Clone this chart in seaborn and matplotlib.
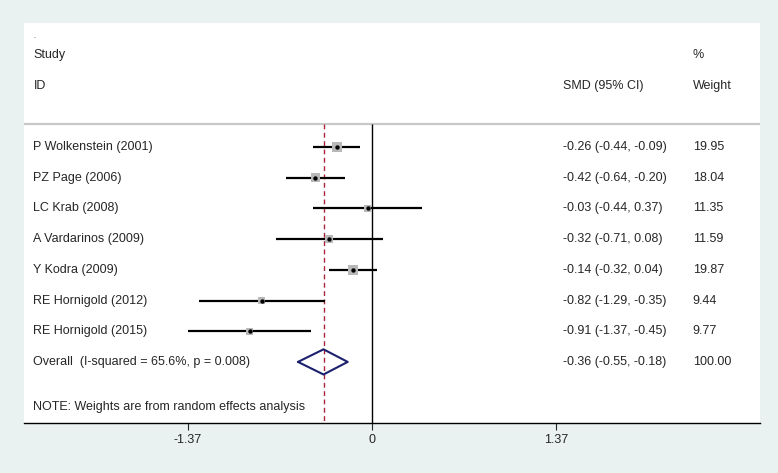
'''
forest plot of SMD per study
'''
import matplotlib
matplotlib.use('Agg')
import numpy as np
import pandas as pd
import seaborn as sns
import matplotlib.pyplot as plt

studies = ["P Wolkenstein (2001)", "PZ Page (2006)", "LC Krab (2008)", "A Vardarinos (2009)",
           "Y Kodra (2009)", "RE Hornigold (2012)", "RE Hornigold (2015)"]
smd = [-0.26, -0.42, -0.03, -0.32, -0.14, -0.82, -0.91]
lo = [-0.44, -0.64, -0.44, -0.71, -0.32, -1.29, -1.37]
hi = [-0.09, -0.20, 0.37, 0.08, 0.04, -0.35, -0.45]
weight = [19.95, 18.04, 11.35, 11.59, 19.87, 9.44, 9.77]
overall = [-0.36, -0.55, -0.18]
overall_label = "Overall  (I-squared = 65.6%, p = 0.008)"
note = "NOTE: Weights are from random effects analysis"
ticks = [-1.37, 0, 1.37]
tick_labels = ["-1.37", "0", "1.37"]


def main():
    sns.set_style("white")
    plt.rcParams['font.family'] = ['Liberation Sans', 'DejaVu Sans']
    df = pd.DataFrame({"study": studies, "smd": smd, "lo": lo, "hi": hi, "weight": weight})
    df["row"] = np.arange(len(df))

    fig = plt.figure(figsize=(7.78, 4.73), dpi=100, facecolor='#e9f1f1')
    ax = fig.add_axes([24 / 778, 50 / 473, 736 / 778, 400 / 473])
    ax.set_facecolor('white')
    ax.set_xlim(-2.59, 2.89)
    ax.set_ylim(8.99, -4.04)

    fs = 9
    # header line and reference lines
    ax.axhline(-0.75, color='#c9c9c9', lw=1.6, zorder=1)
    ax.vlines(0, -0.75, 8.99, color='black', lw=1.0, zorder=1)
    ax.vlines(overall[0], -0.75, 8.99, color='#a8283a', lw=1.0, linestyles=(0, (3.5, 2.5)), zorder=1)

    # confidence intervals
    ax.hlines(df["row"], df["lo"], df["hi"], color='black', lw=1.6, zorder=2)
    sns.scatterplot(data=df, x="smd", y="row", size="weight", sizes=(9.44 * 2.4, 19.95 * 2.4),
                    size_norm=(9.44, 19.95), marker='s', color='#b8b8b8', linewidth=0,
                    legend=False, ax=ax, zorder=3)
    sns.scatterplot(data=df, x="smd", y="row", marker='o', color='black', s=10,
                    linewidth=0, legend=False, ax=ax, zorder=4)

    # pooled diamond
    yo = len(df)
    ax.plot([overall[1], overall[0], overall[2], overall[0], overall[1]],
            [yo, yo - 0.41, yo, yo + 0.41, yo], color='#1c216e', lw=1.5, zorder=4)

    # text columns
    xl, xs, xw = -2.52, 1.42, 2.39
    ax.text(xl, -3.6, ".", fontsize=5, va='center', ha='left')
    ax.text(xl, -3.0, "Study", fontsize=fs, va='center', ha='left')
    ax.text(xl, -2.0, "ID", fontsize=fs, va='center', ha='left')
    ax.text(xs, -2.0, "SMD (95% CI)", fontsize=fs, va='center', ha='left')
    ax.text(xw, -3.0, "%", fontsize=fs, va='center', ha='left')
    ax.text(xw, -2.0, "Weight", fontsize=fs, va='center', ha='left')
    for _, r in df.iterrows():
        ax.text(xl, r["row"], r["study"], fontsize=fs, va='center', ha='left')
        ax.text(xs, r["row"], f"{r['smd']:.2f} ({r['lo']:.2f}, {r['hi']:.2f})", fontsize=fs, va='center', ha='left')
        ax.text(xw, r["row"], f"{r['weight']:.2f}", fontsize=fs, va='center', ha='left')
    ax.text(xl, yo, overall_label, fontsize=fs, va='center', ha='left')
    ax.text(xs, yo, f"{overall[0]:.2f} ({overall[1]:.2f}, {overall[2]:.2f})", fontsize=fs, va='center', ha='left')
    ax.text(xw, yo, "100.00", fontsize=fs, va='center', ha='left')
    ax.text(xl, 8.47, note, fontsize=fs, va='center', ha='left')

    # axes styling
    for s in ["top", "left", "right"]:
        ax.spines[s].set_visible(False)
    ax.spines["bottom"].set_color('black')
    ax.spines["bottom"].set_linewidth(1.0)
    ax.set_xticks(ticks)
    ax.set_xticklabels(tick_labels, fontsize=fs)
    ax.tick_params(axis='x', direction='out', length=5, width=0.8, bottom=True, pad=3)
    ax.set_yticks([])
    ax.set_xlabel("")
    ax.set_ylabel("")

    fig.savefig('out.png', dpi=100, facecolor=fig.get_facecolor())


if __name__ == "__main__":
    main()
